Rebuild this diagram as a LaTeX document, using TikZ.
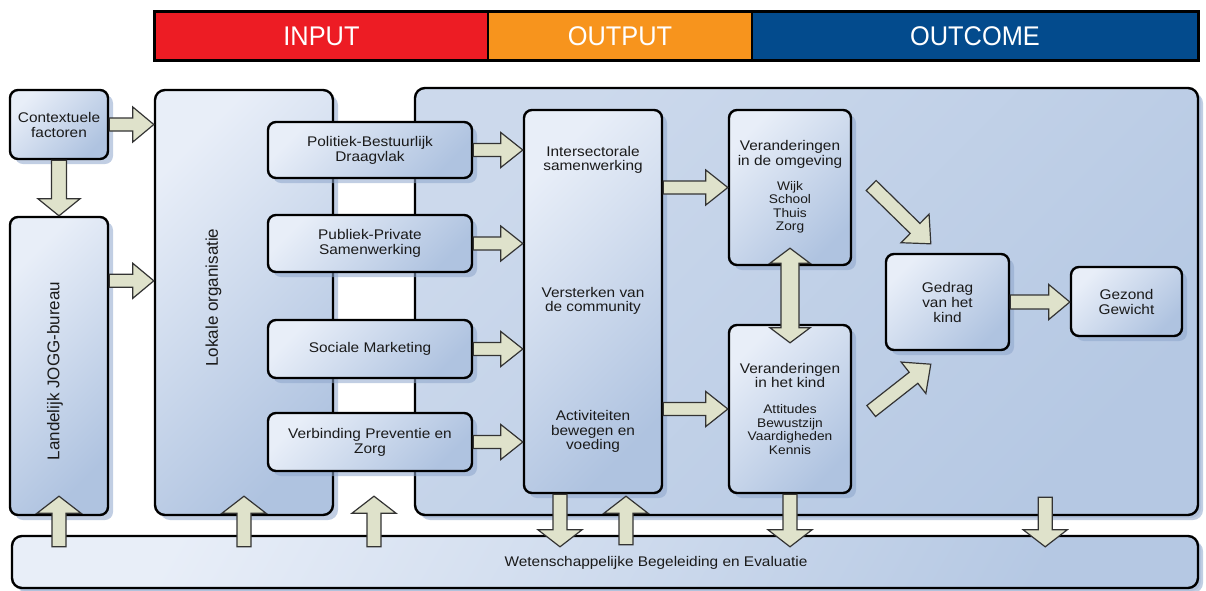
\documentclass[tikz,border=0pt]{standalone}
\usepackage{fontspec}
\setmainfont{Liberation Sans}[FakeStretch=1.1]
\newfontfamily\rotfont{Liberation Sans}
\newfontfamily\headfont{Liberation Sans}[FakeStretch=0.94]
\usetikzlibrary{calc,shadows}
\definecolor{hred}{HTML}{ED1C24}
\definecolor{horange}{HTML}{F7941D}
\definecolor{hblue}{HTML}{034B8D}
\definecolor{boxlight}{HTML}{E8EEF8}
\definecolor{boxdark}{HTML}{AFC3E0}
\definecolor{contlight}{HTML}{CCD9EC}
\definecolor{contdark}{HTML}{B5C8E3}
\definecolor{shadowblue}{HTML}{8EA6CC}
\definecolor{arrowfill}{HTML}{DFE2CB}
\definecolor{arrowline}{HTML}{333333}
\definecolor{txt}{HTML}{1A1A1A}
\newcommand\blkarrow[5]{%
  \coordinate (hbase) at ($(#2)!#5!(#1)$);
  \draw[blockarrow] ($(#1)!#3!90:(#2)$) -- ($(hbase)!#3!90:(#2)$) -- ($(hbase)!#4!90:(#2)$) -- (#2)
    -- ($(hbase)!#4!-90:(#2)$) -- ($(hbase)!#3!-90:(#2)$) -- ($(#1)!#3!-90:(#2)$) -- cycle;}
\newcommand\dblblkarrow[5]{%
  \coordinate (hA) at ($(#1)!#5!(#2)$);
  \coordinate (hB) at ($(#2)!#5!(#1)$);
  \draw[blockarrow] (#1) -- ($(hA)!#4!90:(#2)$) -- ($(hA)!#3!90:(#2)$) -- ($(hB)!#3!-90:(#1)$)
    -- ($(hB)!#4!-90:(#1)$) -- (#2) -- ($(hB)!#4!90:(#1)$) -- ($(hB)!#3!90:(#1)$)
    -- ($(hA)!#3!-90:(#2)$) -- ($(hA)!#4!-90:(#2)$) -- cycle;}
\begin{document}
\begin{tikzpicture}[x=1pt,y=-1pt,
  box/.style={draw=black, line width=2.4pt, rounded corners=8pt,
    top color=boxlight, bottom color=boxdark, shading angle=45,
    drop shadow={shadow xshift=5pt, shadow yshift=-5pt, fill=shadowblue, opacity=0.55},
    align=center, inner sep=0pt, text=txt,
    font=\fontsize{14}{15}\selectfont},
  cont/.style={box, top color=contlight, bottom color=contdark, shading angle=45, drop shadow={shadow xshift=3pt, shadow yshift=-3pt, fill=shadowblue, opacity=0.3}},
  lbl/.style={align=center, inner sep=0pt, text=txt, font=\fontsize{14}{14.5}\selectfont},
  small/.style={align=center, inner sep=0pt, text=txt, font=\fontsize{12.5}{13.5}\selectfont},
  rot/.style={rotate=90, inner sep=0pt, text=txt, font=\rotfont\fontsize{17}{20}\selectfont},
  head/.style={draw=black, line width=1.2pt, minimum height=48pt, inner sep=0pt, text=white,
    font=\headfont\fontsize{27}{30}\selectfont},
  blockarrow/.style={draw=arrowline, line width=1.2pt, fill=arrowfill, line join=miter}]
\useasboundingbox (0,0) rectangle (1206,590);

% header
\node[head, fill=hred, minimum width=333pt] (hin) at (321.5,36) {INPUT};
\node[head, fill=horange, minimum width=264pt] (hout) at (620,36) {OUTPUT};
\node[head, fill=hblue, minimum width=446pt] (hoc) at (975,36) {OUTCOME};
\draw[line width=3pt] (hin.north west) rectangle (hoc.south east);

% big boxes
\node[cont, minimum width=783pt, minimum height=427pt, rounded corners=10pt] (out) at (806.5,301.5) {};
\node[box, minimum width=178pt, minimum height=425pt, rounded corners=10pt] (lok) at (244,302.5) {};
\node[rot] (loklbl) at (213.5,297.5) {Lokale organisatie};
\node[box, minimum width=98pt, minimum height=69pt] (ctx) at (59,124.5) {Contextuele\\factoren};
\node[box, minimum width=98pt, minimum height=298pt] (lan) at (59,366) {};
\node[rot] (lanlbl) at (55,371) {Landelijk JOGG-bureau};
\node[cont, minimum width=1186pt, minimum height=52pt, rounded corners=10pt, top color=boxlight, bottom color=contdark, shading angle=60] (bar) at (605,562) {};
\node[lbl] (barlbl) at (656,563) {Wetenschappelijke Begeleiding en Evaluatie};

% input boxes
\node[box, minimum width=204pt, minimum height=56pt] (pol) at (370,150) {Politiek-Bestuurlijk\\Draagvlak};
\node[box, minimum width=204pt, minimum height=57pt] (pub) at (370,243.5) {Publiek-Private\\Samenwerking};
\node[box, minimum width=204pt, minimum height=58pt] (soc) at (370,349) {Sociale Marketing};
\node[box, minimum width=204pt, minimum height=58pt] (ver) at (370,442) {Verbinding Preventie en\\Zorg};

% output column
\node[box, minimum width=138pt, minimum height=383pt] (mid) at (593,301.5) {};
\node[lbl] (mid1) at (593,160) {Intersectorale\\samenwerking};
\node[lbl] (mid2) at (593,301) {Versterken van\\de community};
\node[lbl] (mid3) at (593,431.5) {Activiteiten\\bewegen en\\voeding};

% outcome boxes
\node[box, minimum width=122pt, minimum height=155pt] (omg) at (790,187.5) {};
\node[lbl] (omgt) at (790,154.5) {Veranderingen\\in de omgeving};
\node[small] (omgl) at (790,207.5) {Wijk\\School\\Thuis\\Zorg};
\node[box, minimum width=122pt, minimum height=168pt] (kid) at (790,409) {};
\node[lbl] (kidt) at (790,375.5) {Veranderingen\\in het kind};
\node[small] (kidl) at (790,429.5) {Attitudes\\Bewustzijn\\Vaardigheden\\Kennis};
\node[box, minimum width=123pt, minimum height=96pt] (ged) at (947.5,302) {Gedrag\\van het\\kind};
\node[box, minimum width=111pt, minimum height=69pt] (gez) at (1126.5,301.5) {Gezond\\Gewicht};

% arrow end points
\coordinate (c1t) at (ctx.east -| lok.west);
\coordinate (c3s) at ($(lan.north east)+(0,65)$);
\coordinate (c3t) at (c3s -| lok.west);
\coordinate (p1t) at (pol.east -| mid.west);
\coordinate (p2t) at (pub.east -| mid.west);
\coordinate (p3t) at (soc.east -| mid.west);
\coordinate (p4t) at (ver.east -| mid.west);
\coordinate (m1s) at (mid.east |- omg.west);
\coordinate (m2s) at (mid.east |- kid.west);
\coordinate (dA) at ([yshift=18pt]omg.south);
\coordinate (dB) at ([yshift=-19pt]kid.north);
\coordinate (g1s) at ($(omg.east)+(19,-2)$);
\coordinate (g1t) at ($(ged.north west)+(46,-9)$);
\coordinate (g2s) at ($(kid.east)+(19,2)$);
\coordinate (g2t) at ($(ged.south west)+(46,13)$);
\coordinate (gzt) at (ged.east -| gez.west);
\coordinate (u1t) at ([yshift=20pt]lan.south);
\coordinate (u1s) at ($(lan.south |- bar.north)+(0,12)$);
\coordinate (u2t) at ([yshift=20pt]lok.south);
\coordinate (u2s) at ($(lok.south |- bar.north)+(0,12)$);
\coordinate (u3t) at ($($(lok.south east)!0.5!(out.south west)$)+(0,-20)$);
\coordinate (u3s) at ($(u3t |- bar.north)+(0,12)$);
\coordinate (d4s) at ($(mid.south)+(-33,0)$);
\coordinate (d4t) at ($(d4s |- bar.north)+(0,12)$);
\coordinate (u5t) at ($(mid.south)+(33,2)$);
\coordinate (u5s) at ($(u5t |- bar.north)+(0,10)$);
\coordinate (d6t) at ($(kid.south |- bar.north)+(0,12)$);
\coordinate (d7s) at ($(out.south east)+(-154,-19)$);
\coordinate (d7t) at ($(d7s |- bar.north)+(0,12)$);

% arrows
\blkarrow{ctx.east}{c1t}{6.5pt}{17.5pt}{21pt}
\blkarrow{ctx.south}{lan.north}{7.5pt}{21pt}{17pt}
\blkarrow{c3s}{c3t}{6.5pt}{17.5pt}{21pt}
\blkarrow{pol.east}{p1t}{6.5pt}{17.5pt}{22pt}
\blkarrow{pub.east}{p2t}{6.5pt}{17.5pt}{22pt}
\blkarrow{soc.east}{p3t}{6.5pt}{17.5pt}{22pt}
\blkarrow{ver.east}{p4t}{6.5pt}{17.5pt}{22pt}
\blkarrow{m1s}{omg.west}{6.5pt}{17.5pt}{22pt}
\blkarrow{m2s}{kid.west}{6.5pt}{17.5pt}{22pt}
\dblblkarrow{dA}{dB}{9pt}{20pt}{15pt}
\blkarrow{g1s}{g1t}{7pt}{20pt}{22pt}
\blkarrow{g2s}{g2t}{7pt}{20pt}{22pt}
\blkarrow{ged.east}{gzt}{7pt}{17.5pt}{21pt}
\blkarrow{u1s}{u1t}{7pt}{22pt}{17pt}
\blkarrow{u2s}{u2t}{7pt}{22pt}{17pt}
\blkarrow{u3s}{u3t}{7pt}{22pt}{17pt}
\blkarrow{d4s}{d4t}{7pt}{22pt}{17pt}
\blkarrow{u5s}{u5t}{7pt}{22pt}{17pt}
\blkarrow{kid.south}{d6t}{7pt}{22pt}{17pt}
\blkarrow{d7s}{d7t}{7pt}{22pt}{17pt}
\end{tikzpicture}
\end{document}
